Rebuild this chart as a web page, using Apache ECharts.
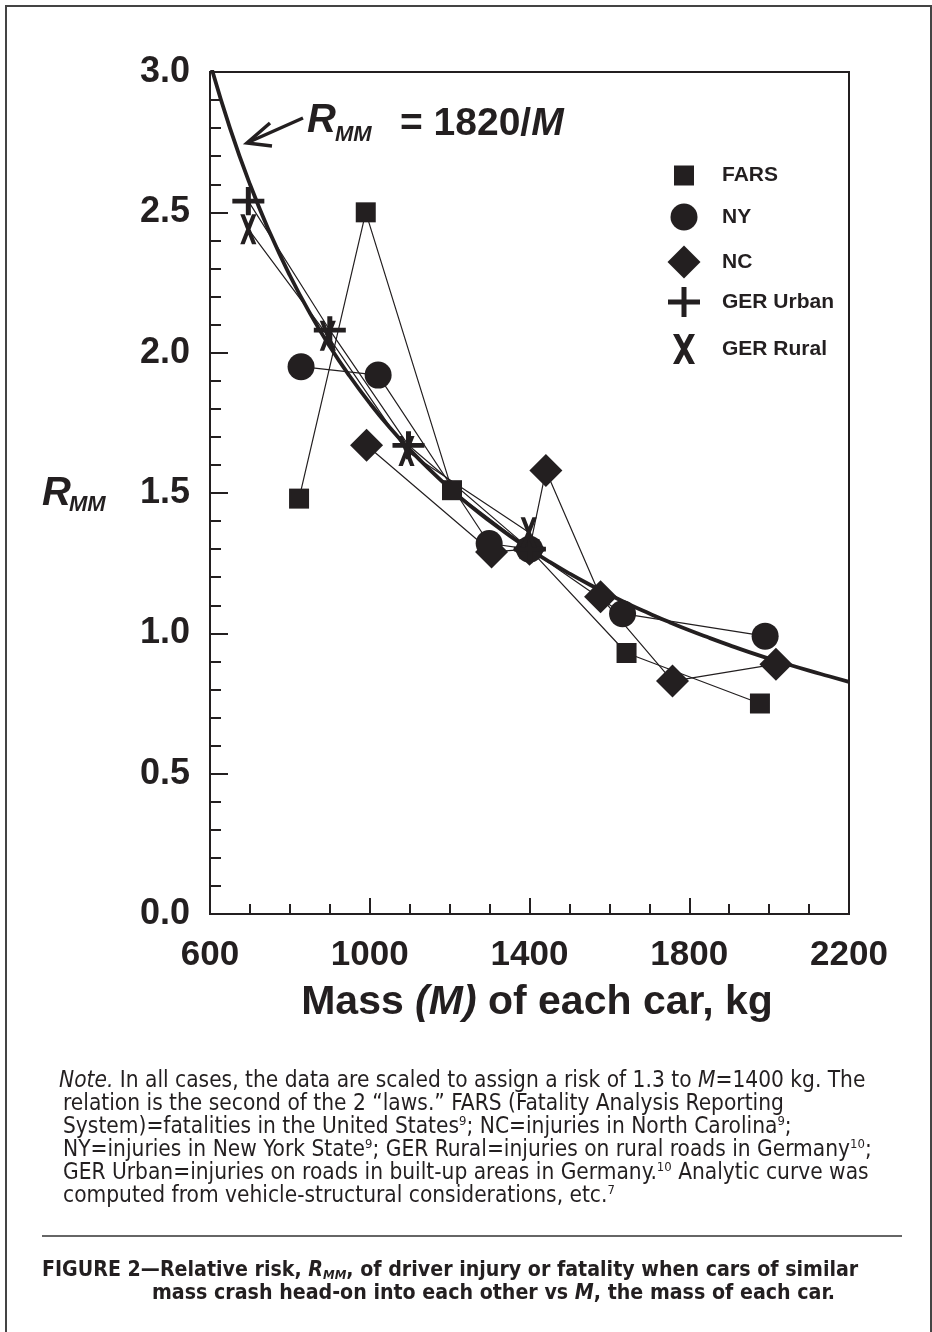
<!DOCTYPE html>
<html>
<head>
<meta charset="utf-8">
<script src="https://cdn.jsdelivr.net/npm/echarts@6/dist/echarts.min.js"></script>
<style>
html, body { margin: 0; padding: 0; background: #fff; }
#chart { width: 932px; height: 1332px; }
</style>
</head>
<body>
<div id="chart"></div>
<script>
// values (mass in kg, relative risk R_MM)
var farsMass  = [823, 990, 1206, 1400, 1643, 1977];
var farsRisk  = [1.48, 2.50, 1.51, 1.30, 0.93, 0.75];
var nyMass    = [828, 1021, 1299, 1400, 1633, 1990];
var nyRisk    = [1.95, 1.92, 1.32, 1.30, 1.07, 0.99];
var ncMass    = [992, 1305, 1400, 1441, 1578, 1758, 2017];
var ncRisk    = [1.67, 1.29, 1.30, 1.58, 1.13, 0.83, 0.89];
var urbanMass = [696, 900, 1097, 1401];
var urbanRisk = [2.54, 2.08, 1.67, 1.30];
var ruralMass = [696, 895, 1092, 1398];
var ruralRisk = [2.44, 2.06, 1.65, 1.36];
// analytic curve as drawn (R = 1820/M), read every 50 kg
var curveMass = [600, 650, 700, 750, 800, 850, 900, 950, 1000, 1050, 1100, 1150, 1200, 1250, 1300, 1350, 1400,
                 1450, 1500, 1550, 1600, 1650, 1700, 1750, 1800, 1850, 1900, 1950, 2000, 2050, 2100, 2150, 2200];
var curveRisk = [3.033, 2.800, 2.600, 2.427, 2.275, 2.141, 2.022, 1.916, 1.820, 1.733, 1.655, 1.583, 1.517, 1.456, 1.400, 1.348, 1.300,
                 1.255, 1.213, 1.174, 1.138, 1.103, 1.071, 1.040, 1.011, 0.984, 0.958, 0.933, 0.910, 0.888, 0.867, 0.847, 0.827];
var xTickLabels = ['600', '1000', '1400', '1800', '2200'];
var yTickLabels = ['0.0', '0.5', '1.0', '1.5', '2.0', '2.5', '3.0'];

var INK = '#231f20';
var NARROW = '"DejaVu Sans Condensed", "Liberation Sans", sans-serif';
var SANS = '"Liberation Sans", Arial, sans-serif';

var PLUS = 'path://M0,12.5L32,12.5L32,17.5L0,17.5Z M13.5,0L18.5,0L18.5,30L13.5,30Z';
var CROSS = 'path://M0,0L6,0L11,9.4L16,0L22,0L14,15L22,30L16,30L11,20.6L6,30L0,30L8,15Z';

function zip(xs, ys) {
    return xs.map(function (x, i) { return [x, ys[i]]; });
}

function dataSeries(name, xs, ys, symbol, size) {
    return {
        name: name,
        type: 'line',
        data: zip(xs, ys),
        symbol: symbol,
        symbolSize: size,
        symbolKeepAspect: true,
        showAllSymbol: true,
        lineStyle: { color: INK, width: 1.2 },
        itemStyle: { color: INK },
        z: 3
    };
}

// one legend per entry so every icon gets its own size
function legendItem(name, icon, w, h, cy) {
    return {
        data: [{ name: name, icon: icon }],
        left: 684 - w / 2,
        top: cy - h / 2,
        padding: 0,
        itemWidth: w,
        itemHeight: h,
        selectedMode: false,
        textStyle: {
            color: INK, fontFamily: SANS, fontWeight: 'bold', fontSize: 21,
            lineHeight: h, padding: [0, 0, 0, 33 - w / 2]
        }
    };
}

var chart = echarts.init(document.getElementById('chart'), null, { renderer: 'canvas' });

var noteLines = [
    '{i|Note.} In all cases, the data are scaled to assign a risk of 1.3 to {i|M}=1400 kg. The',
    'relation is the second of the 2 \u201claws.\u201d FARS (Fatality Analysis Reporting',
    'System)=fatalities in the United States{sup|9}; NC=injuries in North Carolina{sup|9};',
    'NY=injuries in New York State{sup|9}; GER Rural=injuries on rural roads in Germany{sup|10};',
    'GER Urban=injuries on roads in built-up areas in Germany.{sup|10} Analytic curve was',
    'computed from vehicle-structural considerations, etc.{sup|7}'
];
var noteY = [1081, 1104, 1127, 1150, 1173, 1196];

var noteRich = {
    i: { fontFamily: NARROW, fontSize: 22.5, fontStyle: 'italic', color: INK, lineHeight: 24 },
    sup: { fontFamily: NARROW, fontSize: 13, color: INK, verticalAlign: 'top', lineHeight: 24, padding: [0, 0, 10, 0] }
};

var graphics = [
    { type: 'rect', shape: { x: 6, y: 6, width: 925, height: 1340 },
      style: { fill: 'none', stroke: '#444', lineWidth: 2 }, silent: true },
    { type: 'line', shape: { x1: 42, y1: 1236, x2: 902, y2: 1236 },
      style: { stroke: '#333', lineWidth: 1.5 }, silent: true },
    // curve label with arrow
    { type: 'text', x: 307, y: 121, style: { text: 'R', fontFamily: SANS, fontSize: 40, fontStyle: 'italic', fontWeight: 'bold', fill: INK, verticalAlign: 'middle' } },
    { type: 'text', x: 335, y: 135, style: { text: 'MM', fontFamily: SANS, fontSize: 22, fontStyle: 'italic', fontWeight: 'bold', fill: INK, verticalAlign: 'middle' } },
    { type: 'text', x: 400, y: 124, style: {
        text: '= 1820/{m|M}', fontFamily: SANS, fontSize: 39, fontWeight: 'bold', fill: INK, verticalAlign: 'middle',
        rich: { m: { fontFamily: SANS, fontSize: 39, fontWeight: 'bold', fontStyle: 'italic', color: INK } } } },
    { type: 'line', shape: { x1: 303, y1: 118, x2: 249, y2: 142 }, style: { stroke: INK, lineWidth: 3.5 } },
    { type: 'polyline', shape: { points: [[270, 123], [247, 143], [272, 146]] }, style: { stroke: INK, lineWidth: 3.5, fill: 'none' } },
    // y axis title
    { type: 'text', x: 42, y: 494, style: { text: 'R', fontFamily: SANS, fontSize: 40, fontStyle: 'italic', fontWeight: 'bold', fill: INK, verticalAlign: 'middle' } },
    { type: 'text', x: 69, y: 505, style: { text: 'MM', fontFamily: SANS, fontSize: 22, fontStyle: 'italic', fontWeight: 'bold', fill: INK, verticalAlign: 'middle' } },
    // figure caption
    { type: 'text', x: 42, y: 1270, style: {
        text: 'FIGURE 2\u2014Relative risk, {ri|R}{sub|MM}, of driver injury or fatality when cars of similar',
        fontFamily: NARROW, fontSize: 21.2, fontWeight: 'bold', fill: INK, verticalAlign: 'middle',
        rich: {
            ri: { fontFamily: NARROW, fontSize: 21.2, fontWeight: 'bold', fontStyle: 'italic', color: INK, lineHeight: 24 },
            sub: { fontFamily: NARROW, fontSize: 13, fontWeight: 'bold', fontStyle: 'italic', color: INK, verticalAlign: 'bottom', lineHeight: 24, padding: [8, 0, 0, 0] }
        } } },
    { type: 'text', x: 152, y: 1293, style: {
        text: 'mass crash head-on into each other vs {ri|M}, the mass of each car.',
        fontFamily: NARROW, fontSize: 21.2, fontWeight: 'bold', fill: INK, verticalAlign: 'middle',
        rich: { ri: { fontFamily: NARROW, fontSize: 21.2, fontWeight: 'bold', fontStyle: 'italic', color: INK } } } }
];
noteLines.forEach(function (t, i) {
    graphics.push({ type: 'text', x: i === 0 ? 59 : 63, y: noteY[i], style: {
        text: t, fontFamily: NARROW, fontSize: 22.5, fill: INK, verticalAlign: 'middle', rich: noteRich } });
});

chart.setOption({
    backgroundColor: '#fff',
    animation: false,
    grid: { left: 210, top: 72, width: 639, height: 842, show: true, borderColor: INK, borderWidth: 2 },
    legend: [
        legendItem('FARS', 'rect', 20, 20, 175),
        legendItem('NY', 'circle', 27, 27, 217),
        legendItem('NC', 'diamond', 33, 33, 262),
        legendItem('GER Urban', PLUS, 32, 30, 302),
        legendItem('GER Rural', CROSS, 22, 30, 349)
    ],
    xAxis: {
        type: 'value',
        min: +xTickLabels[0],
        max: +xTickLabels[xTickLabels.length - 1],
        interval: xTickLabels[1] - xTickLabels[0],
        name: 'Mass {i|(M)} of each car, kg',
        nameLocation: 'middle',
        nameGap: 68,
        nameTextStyle: {
            fontFamily: SANS, fontSize: 41, fontWeight: 'bold', color: INK, padding: [0, 0, 0, 15],
            rich: { i: { fontFamily: SANS, fontSize: 41, fontWeight: 'bold', fontStyle: 'italic', color: INK } }
        },
        axisLine: { show: true, lineStyle: { color: INK, width: 2 } },
        axisTick: { show: true, inside: true, length: 16, lineStyle: { color: INK, width: 2 } },
        minorTick: { show: true, splitNumber: 4, length: 10, lineStyle: { color: INK, width: 2 } },
        splitLine: { show: false },
        axisLabel: {
            color: INK, fontFamily: SANS, fontWeight: 'bold', fontSize: 35, margin: 24,
            formatter: function (v) { return xTickLabels[Math.round((v - 600) / 400)]; }
        }
    },
    yAxis: {
        type: 'value',
        min: 0,
        max: 3,
        interval: 0.5,
        axisLine: { show: true, lineStyle: { color: INK, width: 2 } },
        axisTick: { show: true, inside: true, length: 18, lineStyle: { color: INK, width: 2 } },
        minorTick: { show: true, splitNumber: 5, length: 11, lineStyle: { color: INK, width: 2 } },
        splitLine: { show: false },
        axisLabel: {
            color: INK, fontFamily: SANS, fontWeight: 'bold', fontSize: 36, margin: 20,
            formatter: function (v) { return yTickLabels[Math.round(v * 2)]; }
        }
    },
    series: [
        {
            name: 'curve',
            type: 'line',
            data: zip(curveMass, curveRisk),
            smooth: true,
            symbol: 'none',
            clip: true,
            lineStyle: { color: INK, width: 3.8 },
            z: 2
        },
        dataSeries('FARS', farsMass, farsRisk, 'rect', 20),
        dataSeries('NY', nyMass, nyRisk, 'circle', 27),
        dataSeries('NC', ncMass, ncRisk, 'diamond', 33),
        dataSeries('GER Urban', urbanMass, urbanRisk, PLUS, [32, 30]),
        dataSeries('GER Rural', ruralMass, ruralRisk, CROSS, [22, 30])
    ],
    graphic: graphics
});
</script>
</body>
</html>
